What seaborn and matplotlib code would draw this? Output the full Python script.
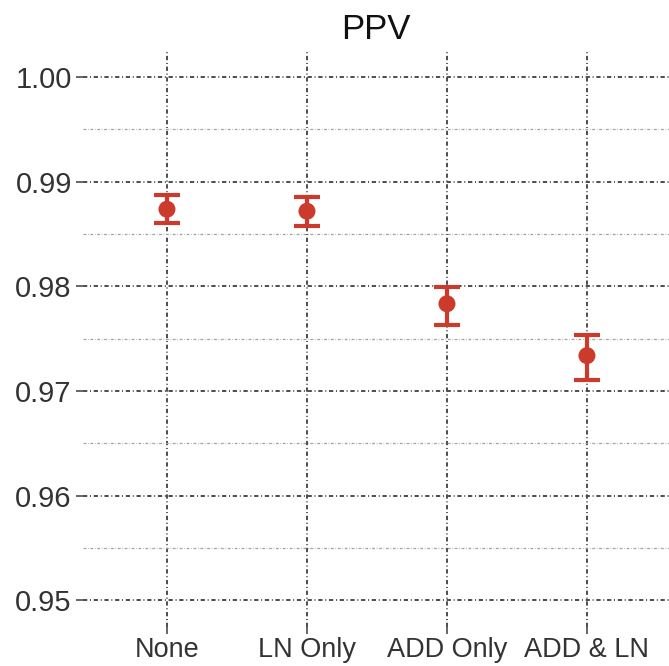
import seaborn as sns
import matplotlib.pyplot as plt
import pandas as pd
from matplotlib.ticker import MultipleLocator

# Values
methods = ['None', 'LN Only', 'ADD Only', 'ADD & LN']
ppv = [0.98736, 0.98717, 0.97833, 0.97338]
ppv_low = [0.98603, 0.98574, 0.97633, 0.97110]
ppv_high = [0.98869, 0.98850, 0.97994, 0.97538]

df = pd.DataFrame({'method': methods, 'ppv': ppv, 'low': ppv_low, 'high': ppv_high})

sns.set_style('white')
plt.rcParams['font.family'] = ['Liberation Sans', 'DejaVu Sans']

fig = plt.figure(figsize=(6.69, 6.66), dpi=100)
ax = fig.add_axes([0.124, 0.058, 0.876, 0.867])

red = '#cc3a2c'
ax.errorbar(range(len(df)), df['ppv'],
            yerr=[df['ppv'] - df['low'], df['high'] - df['ppv']],
            fmt='none', ecolor=red, elinewidth=3, capsize=9.5, capthick=3, zorder=3)
sns.scatterplot(data=df, x='method', y='ppv', color=red, s=150, edgecolor='none',
                ax=ax, zorder=4)

ax.set_xlim(-0.6, 3.586)
ax.set_ylim(0.94743, 1.00257)
ax.yaxis.set_major_locator(MultipleLocator(0.01))
ax.yaxis.set_minor_locator(MultipleLocator(0.005))
ax.yaxis.set_major_formatter(plt.FormatStrFormatter('%.2f'))

dashdot = (0, (2.2, 1.4, 0.5, 1.4))
ax.grid(which='major', axis='both', color='#4d4d4d', linestyle=dashdot, linewidth=1.4)
ax.grid(which='minor', axis='y', color='#a0a0a0', linestyle=dashdot, linewidth=0.9)
ax.set_axisbelow(True)

for s in ax.spines.values():
    s.set_visible(False)

ax.tick_params(axis='both', which='major', length=5, width=1.2, color='#4d4d4d',
               labelcolor='#333333')
ax.tick_params(axis='y', labelsize=21, pad=3, left=True)
ax.tick_params(axis='x', labelsize=19.5, pad=2, bottom=True)
ax.tick_params(axis='y', which='minor', length=0)

ax.set_xlabel('')
ax.set_ylabel('')
ax.set_title('PPV', fontsize=25, color='#111111', pad=8)

fig.savefig('out.png', dpi=100)
plt.close()
